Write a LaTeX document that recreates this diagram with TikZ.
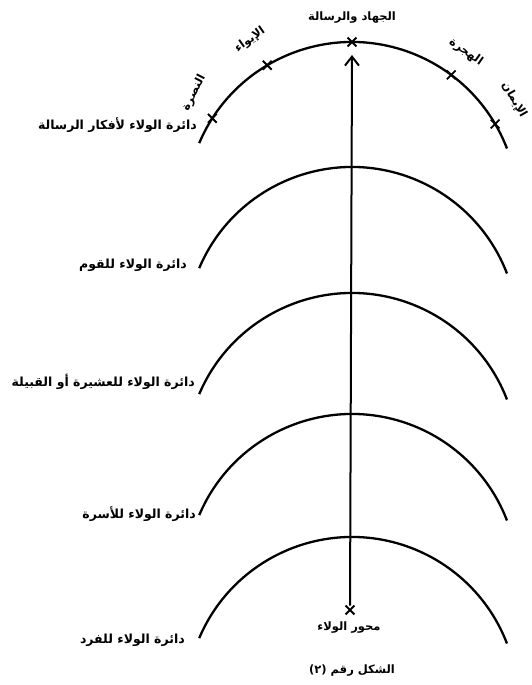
\documentclass[tikz,border=0pt]{standalone}
\usepackage{fontspec}
\newfontfamily\arabicfont[Script=Arabic]{DejaVu Sans}
\TeXXeTstate=1
\usetikzlibrary{arrows.meta,shapes.misc}
\begin{document}
\begin{tikzpicture}[x=1pt,y=1pt,
  ring/.style={line width=2.3pt},
  mk/.style={cross out, draw=black, line width=1.8pt, inner sep=0pt, minimum size=7pt},
  lbl/.style={font=\arabicfont\bfseries\fontsize{11.5}{13}\selectfont, inner sep=1pt},
  side/.style={font=\arabicfont\bfseries\fontsize{12.5}{14}\selectfont, inner sep=1pt, anchor=east},
  axisline/.style={line width=2pt, -{Straight Barb[length=9pt,width=14pt,line width=2pt]}}]
\useasboundingbox (0,0) rectangle (531,685);
% circle centres
\coordinate (c1) at (352,477);
\coordinate (c2) at (352,352);
\coordinate (c3) at (352,226);
\coordinate (c4) at (352,105);
\coordinate (c5) at (352,-18);
% arcs
\foreach \c in {c1,c2,c3,c4,c5}
  \draw[ring] (\c) ++(157:166) arc[start angle=157, end angle=21, radius=166];
% marks on the top arc
\path (c1) ++(147.3:166) node[mk] (m1) {};
\path (c1) ++(120.7:166) node[mk] (m2) {};
\path (c1) ++(90:166) node[mk] (m3) {};
\path (c1) ++(53.3:166) node[mk] (m4) {};
\path (c1) ++(30.4:166) node[mk] (m5) {};
% labels of the marks
\node[lbl, rotate=63] (t1) at (194,592) {\beginR النصرة\endR};
\node[lbl, rotate=35] (t2) at (250,645) {\beginR الإيواء\endR};
\node[lbl] (t3) at (352,667) {\beginR الجهاد والرسالة\endR};
\node[lbl, rotate=-35] (t4) at (466,633) {\beginR الهجرة\endR};
\node[lbl, rotate=-60] (t5) at (514,585) {\beginR الإيمان\endR};
% axis
\node[mk] (base) at (350,75) {};
\coordinate (tip) at (352,630);
\draw[axisline] (base) -- (tip);
\node[lbl] (axislbl) at (349,57) {\beginR محور الولاء\endR};
% side labels
\node[side] (s1) at (198,560) {\beginR دائرة الولاء لأفكار الرسالة\endR};
\node[side] (s2) at (188,420) {\beginR دائرة الولاء للقوم\endR};
\node[side] (s3) at (196,303) {\beginR دائرة الولاء للعشيرة أو القبيلة\endR};
\node[side] (s4) at (197,171) {\beginR دائرة الولاء للأسرة\endR};
\node[side] (s5) at (186,45) {\beginR دائرة الولاء للفرد\endR};
% caption
\node[lbl] (cap) at (352,14) {\beginR الشكل رقم \beginL(٢)\endL\endR};
\end{tikzpicture}
\end{document}
